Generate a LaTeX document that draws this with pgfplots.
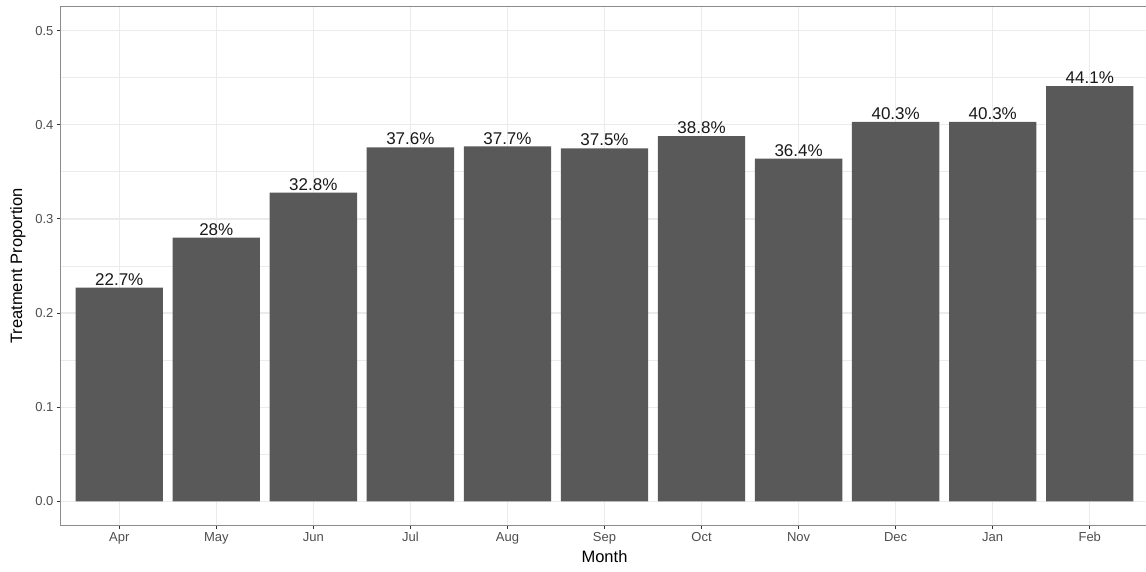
\documentclass[border=0pt]{standalone}
\usepackage{fontspec}
\setmainfont{Liberation Sans}
\usepackage{pgfplots}
\pgfplotsset{compat=1.18}
\definecolor{barc}{HTML}{595959}
\definecolor{gridc}{HTML}{EBEBEB}
\definecolor{tickl}{HTML}{4D4D4D}
\definecolor{framec}{HTML}{8C8C8C}
\definecolor{tickc}{HTML}{333333}
\begin{document}
\begin{tikzpicture}[x=1pt,y=1pt]
\useasboundingbox (0,0) rectangle (1146,571);
\begin{axis}[
  at={(61pt,46pt)}, anchor=south west,
  width=1087pt, height=518pt, scale only axis,
  xmin=-0.6, xmax=10.6, ymin=-0.025, ymax=0.525,
  xtick={0,1,2,3,4,5,6,7,8,9,10},
  xticklabels={Apr,May,Jun,Jul,Aug,Sep,Oct,Nov,Dec,Jan,Feb},
  ytick={0,0.1,0.2,0.3,0.4,0.5},
  yticklabels={0.0,0.1,0.2,0.3,0.4,0.5},
  minor ytick={0.05,0.15,0.25,0.35,0.45},
  tick pos=left,
  grid=both,
  major grid style={draw=gridc, line width=1.2pt},
  minor grid style={draw=gridc, line width=0.7pt},
  axis line style={draw=framec, line width=1pt},
  tick style={draw=tickc, line width=1pt},
  tick align=outside,
  major tick length=4pt,
  minor tick length=0pt,
  ticklabel style={font=\fontsize{13}{13}\selectfont, text=tickl},
  xlabel={Month},
  ylabel={Treatment Proportion},
  label style={font=\fontsize{16.5}{16.5}\selectfont, text=black},
  xlabel style={at={(axis description cs:0.5,-0.0618)}, anchor=center},
  ylabel style={at={(axis description cs:-0.0396,0.5)}, anchor=center},
]
\addplot[ybar, bar width=0.9, fill=barc, draw=none,
  nodes near coords, point meta=explicit symbolic,
  every node near coord/.append style={font=\fontsize{17}{17}\selectfont, text=black!90, inner sep=0pt, yshift=2pt}]
coordinates {
(0,0.227) [22.7\%]
(1,0.280) [28\%]
(2,0.328) [32.8\%]
(3,0.376) [37.6\%]
(4,0.377) [37.7\%]
(5,0.375) [37.5\%]
(6,0.388) [38.8\%]
(7,0.364) [36.4\%]
(8,0.403) [40.3\%]
(9,0.403) [40.3\%]
(10,0.441) [44.1\%]
};
\end{axis}
\end{tikzpicture}
\end{document}
